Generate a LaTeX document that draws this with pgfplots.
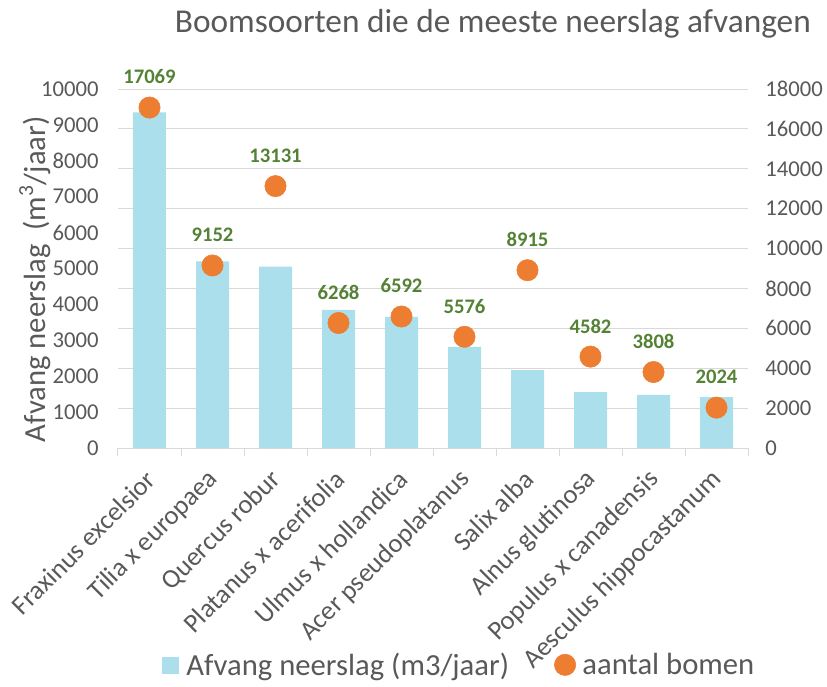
\documentclass[border=0pt]{standalone}
\usepackage{fontspec}
\setmainfont{Carlito}
\usepackage{pgfplots}
\pgfplotsset{compat=1.18}
\definecolor{txtgrey}{RGB}{89,89,89}
\definecolor{gridgrey}{RGB}{217,217,217}
\definecolor{barblue}{RGB}{170,223,235}
\definecolor{dotorange}{RGB}{237,125,49}
\definecolor{lblgreen}{RGB}{84,130,53}

\pgfplotsset{
  boomaxis/.style={
    scale only axis, width=472.5pt, height=269.25pt,
    xmin=-0.5, xmax=9.5,
    /pgf/number format/assume math mode=true,
    /pgf/number format/1000 sep={},
    scaled y ticks=false,
    major tick length=0pt,
  },
}

\begin{document}
\begin{tikzpicture}
\useasboundingbox (-88.5pt,-178.5pt) rectangle (531.75pt,336pt);

% right-hand scale, gridlines belong to it
\begin{axis}[boomaxis,
  ymin=0, ymax=18000, ytick distance=2000,
  axis x line=none, axis y line*=right, y axis line style={draw=none},
  ymajorgrids, grid style={gridgrey, line width=0.75pt},
  yticklabel style={font=\fontsize{17}{20}\selectfont, text=txtgrey, anchor=west, xshift=9.5pt},
]
\end{axis}

% bars, left scale
\begin{axis}[boomaxis,
  ymin=0, ymax=10000, ytick distance=1000,
  axis y line*=left, y axis line style={draw=none},
  axis x line*=bottom, x axis line style={gridgrey, line width=0.75pt},
  xtick={0,...,9},
  xticklabels={Fraxinus excelsior, Tilia x europaea, Quercus robur, Platanus x acerifolia,
    Ulmus x hollandica, Acer pseudoplatanus, Salix alba, Alnus glutinosa,
    Populus x canadensis, Aesculus hippocastanum},
  minor xtick={-0.5,0.5,...,9.5},
  minor tick length=6pt, tick align=outside,
  minor tick style={draw=gridgrey, line width=0.75pt},
  xticklabel style={font=\fontsize{20}{23}\selectfont, text=txtgrey,
    xshift=3.5pt, yshift=-18pt, rotate=45, anchor=east},
  yticklabel style={font=\fontsize{17}{20}\selectfont, text=txtgrey, xshift=-11pt},
  ylabel={Afvang neerslag~~(m\textsuperscript{3}/jaar)},
  ylabel style={font=\fontsize{23}{26}\selectfont, text=txtgrey,
    at={(axis description cs:-0.132,0.47)}, anchor=center},
]
\addplot[ybar, bar width=24.75pt, fill=barblue, draw=none] coordinates {
  (0,9350) (1,5200) (2,5050) (3,3850) (4,3650)
  (5,2820) (6,2170) (7,1560) (8,1480) (9,1420)
};
\end{axis}

% dots, right scale
\begin{axis}[boomaxis,
  ymin=0, ymax=18000, hide axis, clip=false,
  legend style={at={(0.542,-0.604)}, anchor=center, draw=none, fill=none,
    legend columns=-1, font=\fontsize{23}{27}\selectfont, text=txtgrey,
    /tikz/every odd column/.append style={column sep=3pt},
    /tikz/every even column/.append style={column sep=32pt}},
]
\addlegendimage{legend image code/.code={
  \fill[barblue] (0pt,-6pt) rectangle (12pt,6pt);
  \path (13pt,0pt);}}
\addplot[only marks, mark=*, mark size=8pt, color=dotorange,
  nodes near coords, point meta=explicit symbolic,
  nodes near coords style={font=\fontsize{15.5}{18}\selectfont\bfseries,
    text=lblgreen, anchor=center, yshift=23pt}]
  coordinates {
  (0,17069) [17069] (1,9152) [9152] (2,13131) [13131] (3,6268) [6268]
  (4,6592) [6592] (5,5576) [5576] (6,8915) [8915] (7,4582) [4582]
  (8,3808) [3808] (9,2024) [2024]
};
\legend{Afvang neerslag (m3/jaar), aantal bomen}
\node[font=\fontsize{25}{30}\selectfont, text=txtgrey] at (rel axis cs:0.595,1.181)
  {Boomsoorten die de meeste neerslag afvangen};
\end{axis}
\end{tikzpicture}
\end{document}
